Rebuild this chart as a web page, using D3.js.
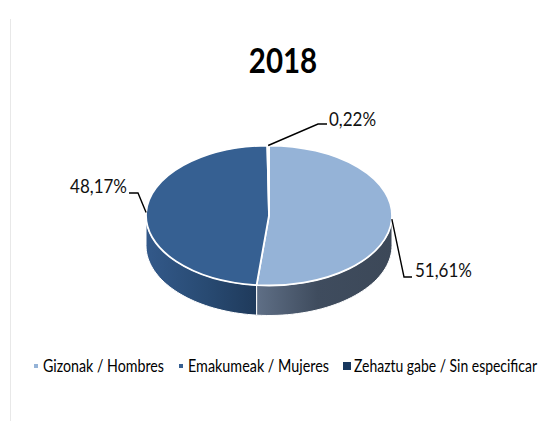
<!DOCTYPE html>
<html><head><meta charset="utf-8">
<script src="https://cdnjs.cloudflare.com/ajax/libs/d3/7.8.5/d3.min.js"></script>
<style>html,body{margin:0;padding:0;background:#fff}svg{display:block}text{font-family:Lato,"Open Sans",sans-serif;fill:#111}</style>
</head><body><svg id="c" width="540" height="421"></svg>
<script>
const categories = ["Gizonak / Hombres","Emakumeak / Mujeres","Zehaztu gabe / Sin especificar"];
const values = [51.61,48.17,0.22];
const valueLabels = ["51,61%","48,17%","0,22%"];
const colors = ["#95b3d7","#366092","#17375e"];
const title = "2018";

const svg = d3.select("#c");
const cx=269, cy=215.5, rx=123, ry=70, depth=30;
const defs = svg.append("defs");
const grads=[
  {id:"wall0",stops:[["0%","#5f6f86"],["45%","#3f4c5e"],["100%","#3c4858"]]},
  {id:"wall1",stops:[["0%","#33598a"],["55%","#284a72"],["100%","#1f3a5b"]]},
  {id:"wall2",stops:[["0%","#17375e"],["100%","#17375e"]]}
];
grads.forEach(g=>{
  const lg=defs.append("linearGradient").attr("id",g.id).attr("x1",0).attr("x2",1).attr("y1",0).attr("y2",0);
  g.stops.forEach(s=>lg.append("stop").attr("offset",s[0]).attr("stop-color",s[1]));
});

// frame remnant on the left
svg.append("line").attr("x1",10.5).attr("x2",10.5).attr("y1",19).attr("y2",421).attr("stroke","#e8e8e8");

// title (narrow, tall glyphs)
svg.append("text").attr("transform","translate(283,73) scale(1,1.18)").attr("text-anchor","middle")
  .attr("font-size",29.5).attr("font-weight",700).attr("style","fill:#000").text(title);

const pie=d3.pie().sort(null).value(d=>d);
const arcs=pie(values);
const px=a=>cx+rx*Math.sin(a), py=a=>cy-ry*Math.cos(a);

// side walls (front half only)
const lo=Math.PI/2, hi=3*Math.PI/2;
arcs.forEach((d,i)=>{
  const a0=Math.max(d.startAngle,lo), a1=Math.min(d.endAngle,hi);
  if(a1<=a0) return;
  const angs=d3.range(41).map(k=>a0+(a1-a0)*k/40);
  const top=angs.map(a=>[px(a),py(a)]);
  const bot=angs.slice().reverse().map(a=>[px(a),py(a)+depth]);
  svg.append("path").attr("d",d3.line()(top.concat(bot))+"Z")
    .attr("fill",`url(#wall${i})`).attr("stroke","#fff").attr("stroke-width",1);
});

// top face
const arc=d3.arc().innerRadius(0).outerRadius(rx);
svg.append("g").attr("transform",`translate(${cx},${cy}) scale(1,${ry/rx})`)
  .selectAll("path").data(arcs).join("path")
  .attr("d",arc).attr("fill",(d,i)=>colors[i])
  .attr("stroke","#fff").attr("stroke-width",1.8).attr("vector-effect","non-scaling-stroke");

// leaders and labels
const layout=[
  {el:[404,277],end:[412,277],tx:415,ty:277,anchor:"start"},
  {el:[138,193],end:[129,193],tx:127,ty:193,anchor:"end"},
  {el:[318,124],end:[327,124],tx:329,ty:125.5,anchor:"start"}
];
arcs.forEach((d,i)=>{
  const m=(d.startAngle+d.endAngle)/2, L=layout[i];
  svg.append("path").attr("fill","none").attr("stroke","#000").attr("stroke-width",1.4)
    .attr("d",d3.line()([[px(m),py(m)],L.el,L.end]));
  svg.append("text").attr("transform",`translate(${L.tx},${L.ty}) scale(1,1.17)`).attr("text-anchor",L.anchor)
    .attr("font-size",17).text(valueLabels[i]);
});

// legend
const leg=[{sx:34,s:4,tx:43,w:121},{sx:179,s:4,tx:188,w:141},{sx:343,s:8,tx:354,w:183}];
categories.forEach((c,i)=>{
  const L=leg[i];
  svg.append("rect").attr("x",L.sx).attr("y",366-L.s/2).attr("width",L.s).attr("height",L.s).attr("fill",colors[i]);
  svg.append("text").attr("transform",`translate(${L.tx},371.5) scale(1,1.18)`).attr("font-size",14)
    .attr("textLength",L.w).attr("lengthAdjust","spacingAndGlyphs").attr("style","fill:#000").text(c);
});
</script></body></html>
